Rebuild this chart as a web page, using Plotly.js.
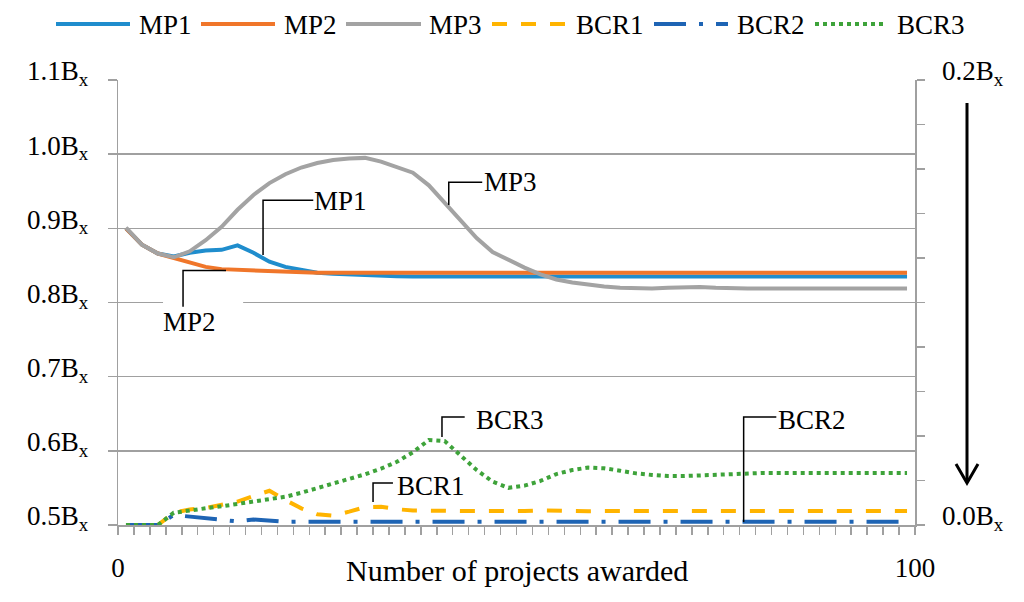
<!DOCTYPE html>
<html>
<head>
<meta charset="utf-8">
<script src="https://cdn.plot.ly/plotly-3.0.1.min.js"></script>
<style>
  html, body { margin: 0; padding: 0; background: #fff; }
  #chart { width: 1024px; height: 602px; }
</style>
</head>
<body>
<div id="chart"></div>
<script>
// one point per pair of projects awarded (centre of each pair)
const projects = [1, 3, 5, 7, 9, 11, 13, 15, 17, 19, 21, 23, 25, 27, 29, 31, 33, 35, 37, 39,
  41, 43, 45, 47, 49, 51, 53, 55, 57, 59, 61, 63, 65, 67, 69, 71, 73, 75, 77, 79,
  81, 83, 85, 87, 89, 91, 93, 95, 97, 99];

// market price series, left axis (multiples of Bx)
const mp1 = [0.900, 0.878, 0.866, 0.862, 0.867, 0.870, 0.871, 0.877, 0.867, 0.855,
  0.848, 0.844, 0.840, 0.8386, 0.8375, 0.837, 0.836, 0.8355, 0.835, 0.835,
  0.835, 0.835, 0.835, 0.835, 0.835, 0.835, 0.835, 0.835, 0.835, 0.835,
  0.835, 0.835, 0.835, 0.835, 0.835, 0.835, 0.835, 0.835, 0.835, 0.835,
  0.835, 0.835, 0.835, 0.835, 0.835, 0.835, 0.835, 0.835, 0.835, 0.835];
const mp2 = [0.900, 0.878, 0.866, 0.860, 0.853, 0.848, 0.845, 0.844, 0.843, 0.842,
  0.841, 0.8405, 0.840, 0.840, 0.840, 0.840, 0.840, 0.840, 0.840, 0.840,
  0.840, 0.840, 0.840, 0.840, 0.840, 0.840, 0.840, 0.840, 0.840, 0.840,
  0.840, 0.840, 0.840, 0.840, 0.840, 0.840, 0.840, 0.840, 0.840, 0.840,
  0.840, 0.840, 0.840, 0.840, 0.840, 0.840, 0.840, 0.840, 0.840, 0.840];
const mp3 = [0.901, 0.878, 0.866, 0.861, 0.869, 0.884, 0.902, 0.925, 0.945, 0.961,
  0.973, 0.982, 0.988, 0.992, 0.994, 0.995, 0.990, 0.983, 0.975, 0.958,
  0.934, 0.910, 0.887, 0.868, 0.857, 0.847, 0.838, 0.831, 0.827, 0.824,
  0.8215, 0.820, 0.819, 0.819, 0.820, 0.821, 0.821, 0.820, 0.819, 0.819,
  0.819, 0.819, 0.819, 0.819, 0.819, 0.819, 0.819, 0.819, 0.819, 0.819];

// benefit-cost ratio series, right axis (multiples of Bx)
const bcr1 = [0, 0, 0, 0.0055, 0.0070, 0.0076, 0.0090, 0.0105, 0.0130, 0.0154,
  0.0112, 0.0075, 0.0048, 0.0042, 0.0060, 0.0080, 0.0082, 0.0071, 0.0065, 0.0066,
  0.0064, 0.0063, 0.0062, 0.0061, 0.0062, 0.0063, 0.0066, 0.0064, 0.0060, 0.0062,
  0.0063, 0.0063, 0.0063, 0.0063, 0.0063, 0.0063, 0.0063, 0.0063, 0.0063, 0.0063,
  0.0063, 0.0063, 0.0063, 0.0063, 0.0063, 0.0063, 0.0063, 0.0063, 0.0063, 0.0063];
const bcr2 = [0, 0, 0, 0.0045, 0.0038, 0.0028, 0.0020, 0.0016, 0.0025, 0.0019,
  0.0014, 0.0015, 0.0015, 0.0015, 0.0015, 0.0015, 0.0015, 0.0015, 0.0015, 0.0015,
  0.0015, 0.0015, 0.0015, 0.0015, 0.0015, 0.0015, 0.0015, 0.0015, 0.0015, 0.0015,
  0.0015, 0.0015, 0.0015, 0.0015, 0.0015, 0.0015, 0.0015, 0.0015, 0.0015, 0.0015,
  0.0015, 0.0015, 0.0015, 0.0015, 0.0015, 0.0015, 0.0015, 0.0015, 0.0015, 0.0015];
const bcr3 = [0, 0, 0, 0.0055, 0.0067, 0.0075, 0.0084, 0.0094, 0.0106, 0.0118,
  0.0127, 0.0145, 0.0165, 0.0184, 0.0205, 0.0228, 0.0253, 0.0284, 0.0327, 0.0382,
  0.0377, 0.0314, 0.0247, 0.0195, 0.0167, 0.0177, 0.0198, 0.0229, 0.0247, 0.0258,
  0.0255, 0.0244, 0.0232, 0.0225, 0.0220, 0.0220, 0.0223, 0.0229, 0.0232, 0.0235,
  0.0234, 0.0234, 0.0234, 0.0234, 0.0234, 0.0234, 0.0234, 0.0234, 0.0234, 0.0234];

const seriesNames = ['MP1', 'MP2', 'MP3', 'BCR1', 'BCR2', 'BCR3'];
const seriesData = [mp1, mp2, mp3, bcr1, bcr2, bcr3];
const seriesAxis = ['y', 'y', 'y', 'y2', 'y2', 'y2'];
const seriesColors = ['#1F8DCD', '#F0762A', '#A3A3A3', '#FFB400', '#1E64B4', '#3EA33A'];
const seriesDash = ['solid', 'solid', 'solid', '15px,14px', '32px,13px,4px,13px', '4px,4px'];

const xTicks = [0, 100];
const xTickText = ['0', '100'];
const leftTicks = [0.5, 0.6, 0.7, 0.8, 0.9, 1.0, 1.1];
const leftTickText = ['0.5B<sub>x</sub>', '0.6B<sub>x</sub>', '0.7B<sub>x</sub>', '0.8B<sub>x</sub>',
  '0.9B<sub>x</sub>', '1.0B<sub>x</sub>', '1.1B<sub>x</sub>'];
const rightTicks = [0, 0.2];
const rightTickText = ['0.0B<sub>x</sub>', '0.2B<sub>x</sub>'];

const FONT = 'Liberation Serif';
const AXIS_GRAY = '#A0A0A0';

// pixel -> paper helpers (plot area 118..915 x 80..525)
const px = v => (v - 118) / 797;
const py = v => (525 - v) / 445;

let data = [];
for (let i = 0; i < seriesNames.length; i++) {
  data.push({
    x: projects,
    y: seriesData[i],
    yaxis: seriesAxis[i],
    name: seriesNames[i],
    type: 'scatter',
    mode: 'lines',
    line: {color: seriesColors[i], width: 4, dash: seriesDash[i]},
    showlegend: false,
    hoverinfo: 'skip'
  });
}

// hand drawn legend across the top
const legLineStart = [56, 201, 346, 492, 654, 815];
const legLineEnd = [130, 275, 421, 565, 728, 883];
const legTextX = [137, 282, 427, 574, 735, 895];

let shapes = [];
let annotations = [];
for (let i = 0; i < seriesNames.length; i++) {
  shapes.push({
    type: 'line', xref: 'paper', yref: 'paper',
    x0: px(legLineStart[i]), x1: px(legLineEnd[i]), y0: py(24), y1: py(24),
    line: {color: seriesColors[i], width: 4, dash: seriesDash[i]}
  });
  annotations.push({
    xref: 'paper', yref: 'paper', x: px(legTextX[i]), y: py(25),
    xanchor: 'left', yanchor: 'middle', showarrow: false,
    text: seriesNames[i], font: {family: FONT, size: 27, color: '#000'}
  });
}

// white gap behind the MP2 label
shapes.push({
  type: 'rect', xref: 'x', yref: 'y', layer: 'between',
  x0: 5.65, x1: 15.7, y0: 0.795, y1: 0.805,
  fillcolor: '#fff', line: {width: 0}
});

// callout leader lines
const leaders = [
  {yref: 'y', path: 'M18.2,0.864 L18.2,0.938 L24.5,0.938'},
  {yref: 'y', path: 'M13.55,0.8431 L8.16,0.8431 L8.16,0.7942'},
  {yref: 'y', path: 'M41.5,0.9315 L41.5,0.962 L45.7,0.962'},
  {yref: 'y2', path: 'M32.0,0.0103 L32.0,0.0189 L34.5,0.0189'},
  {yref: 'y2', path: 'M78.5,0.0013 L78.5,0.0485 L82.6,0.0485'},
  {yref: 'y2', path: 'M40.65,0.0395 L40.65,0.0485 L43.5,0.0485'}
];
leaders.forEach(l => {
  shapes.push({type: 'path', xref: 'x', yref: l.yref, path: l.path,
    line: {color: '#000', width: 1.5}});
});

const callouts = [
  {text: 'MP1', yref: 'y', x: 24.4, y: 0.937, xanchor: 'left'},
  {text: 'MP2', yref: 'y', x: 9.0, y: 0.774, xanchor: 'center'},
  {text: 'MP3', yref: 'y', x: 45.7, y: 0.9625, xanchor: 'left'},
  {text: 'BCR1', yref: 'y2', x: 34.8, y: 0.0175, xanchor: 'left'},
  {text: 'BCR2', yref: 'y2', x: 82.6, y: 0.0472, xanchor: 'left'},
  {text: 'BCR3', yref: 'y2', x: 44.7, y: 0.0472, xanchor: 'left'}
];
callouts.forEach(c => {
  annotations.push({
    xref: 'x', yref: c.yref, x: c.x, y: c.y, xanchor: c.xanchor, yanchor: 'middle',
    showarrow: false, text: c.text, font: {family: FONT, size: 27, color: '#000'}
  });
});

// downward arrow beside the right axis
shapes.push({type: 'line', xref: 'paper', yref: 'paper',
  x0: px(967), x1: px(967), y0: py(103), y1: py(482), line: {color: '#000', width: 3}});
shapes.push({type: 'path', xref: 'paper', yref: 'paper',
  path: 'M' + px(956) + ',' + py(464) + ' L' + px(967) + ',' + py(483) + ' L' + px(978) + ',' + py(464),
  line: {color: '#000', width: 3}});

// x axis title sits on the same row as the 0 / 100 labels
annotations.push({
  xref: 'paper', yref: 'paper', x: 0.5, y: py(570), xanchor: 'center', yanchor: 'middle',
  showarrow: false, text: 'Number of projects awarded',
  font: {family: FONT, size: 30, color: '#000'}
});

let layout = {
  width: 1024,
  height: 602,
  margin: {l: 118, r: 109, t: 80, b: 77},
  paper_bgcolor: '#fff',
  plot_bgcolor: '#fff',
  font: {family: FONT, size: 27, color: '#000'},
  showlegend: false,
  xaxis: {
    range: [0, 100],
    tickmode: 'array',
    tickvals: xTicks,
    ticktext: xTickText,
    ticks: 'outside',
    ticklen: 8,
    tickwidth: 1.5,
    tickcolor: AXIS_GRAY,
    ticklabelstandoff: 10,
    minor: {tickmode: 'linear', tick0: 0, dtick: 2, ticks: 'outside', ticklen: 8,
      tickwidth: 1.5, tickcolor: AXIS_GRAY, showgrid: false},
    showline: true,
    linecolor: AXIS_GRAY,
    linewidth: 1.5,
    showgrid: false,
    zeroline: false,
    tickfont: {family: FONT, size: 27, color: '#000'}
  },
  yaxis: {
    range: [0.5, 1.1],
    tickmode: 'array',
    tickvals: leftTicks,
    ticktext: leftTickText,
    ticks: 'outside',
    ticklen: 9,
    tickwidth: 1.5,
    tickcolor: AXIS_GRAY,
    ticklabelstandoff: 14,
    ticklabelshift: -9,
    showline: true,
    linecolor: AXIS_GRAY,
    linewidth: 1.5,
    showgrid: true,
    gridcolor: AXIS_GRAY,
    gridwidth: 1.5,
    zeroline: false,
    tickfont: {family: FONT, size: 27, color: '#000'}
  },
  yaxis2: {
    range: [0, 0.2],
    overlaying: 'y',
    side: 'right',
    tickmode: 'array',
    tickvals: rightTicks,
    ticktext: rightTickText,
    ticks: 'outside',
    ticklen: 8,
    tickwidth: 1.5,
    tickcolor: AXIS_GRAY,
    ticklabelstandoff: 12,
    ticklabelshift: -9,
    minor: {tickmode: 'linear', tick0: 0, dtick: 0.02, ticks: 'outside', ticklen: 8,
      tickwidth: 1.5, tickcolor: AXIS_GRAY, showgrid: false},
    showline: true,
    linecolor: AXIS_GRAY,
    linewidth: 1.5,
    showgrid: false,
    zeroline: false,
    tickfont: {family: FONT, size: 27, color: '#000'}
  },
  shapes: shapes,
  annotations: annotations
};

Plotly.newPlot('chart', data, layout, {displayModeBar: false, staticPlot: true});
</script>
</body>
</html>
